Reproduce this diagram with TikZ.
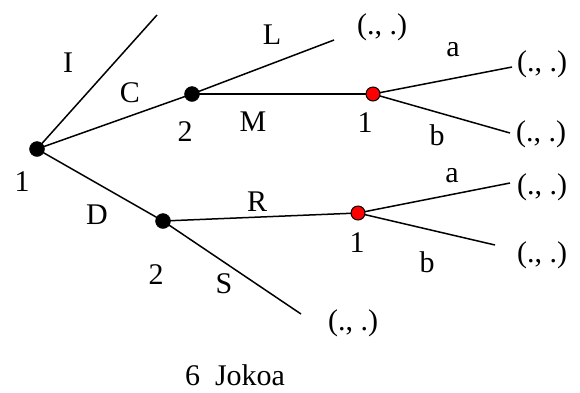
\documentclass[tikz,border=0pt]{standalone}
\usepackage{fontspec}
\setmainfont{Liberation Serif}
\begin{document}
\begin{tikzpicture}[x=1pt,y=-1pt,
  edge/.style={line width=1.5pt,black},
  bdot/.style={circle,fill=black,draw=black,inner sep=0pt,minimum size=15pt},
  rdot/.style={circle,fill=red,draw=black,line width=1pt,inner sep=0pt,minimum size=14pt},
  lbl/.style={inner sep=0pt,font=\fontsize{30}{33}\selectfont}]
\useasboundingbox (0,0) rectangle (580,392);
% points
\coordinate (Iend) at (157,15);
\coordinate (Lend) at (334,40);
\coordinate (aend1) at (512,67);
\coordinate (bend1) at (510,133);
\coordinate (Send) at (301,314);
\coordinate (aend2) at (510,183);
\coordinate (bend2) at (495,245);
\coordinate (r) at (37,149);
\coordinate (n2a) at (192,94);
\coordinate (n1a) at (373,94);
\coordinate (n2b) at (163,221);
\coordinate (n1b) at (358,213);
% edges
\draw[edge] (r) -- (Iend);
\draw[edge] (r) -- (n2a);
\draw[edge] (r) -- (n2b);
\draw[edge] (n2b) -- (Send);
\draw[edge] (n2a) -- (Lend);
\draw[edge] (n2a) -- (n1a);
\draw[edge] (n1a) -- (aend1);
\draw[edge] (n1a) -- (bend1);
\draw[edge] (n2b) -- (n1b);
\draw[edge] (n1b) -- (aend2);
\draw[edge] (n1b) -- (bend2);
% dots
\node[bdot] (rd) at (r) {};
\node[bdot] (n2ad) at (n2a) {};
\node[bdot] (n2bd) at (n2b) {};
\node[rdot] (n1ad) at (n1a) {};
\node[rdot] (n1bd) at (n1b) {};
% labels
\node[lbl] (tI) at (68,63) {I};
\node[lbl] (tC) at (130,93) {C};
\node[lbl] (t2a) at (185,132) {2};
\node[lbl] (tL) at (272,35) {L};
\node[lbl] (pL) at (382,27) {(., .)};
\node[lbl] (tM) at (253,122) {M};
\node[lbl] (t1a) at (365,123) {1};
\node[lbl] (ta1) at (453,50) {a};
\node[lbl] (pa1) at (542,64) {(., .)};
\node[lbl] (tb1) at (437,135) {b};
\node[lbl] (pb1) at (541,134) {(., .)};
\node[lbl] (t1r) at (22,182) {1};
\node[lbl] (tD) at (97,215) {D};
\node[lbl] (t2b) at (156,275) {2};
\node[lbl] (tS) at (224,284) {S};
\node[lbl] (tR) at (257,202) {R};
\node[lbl] (pS) at (353,323) {(., .)};
\node[lbl] (t1b) at (357,243) {1};
\node[lbl] (ta2) at (452,176) {a};
\node[lbl] (pa2) at (542,187) {(., .)};
\node[lbl] (tb2) at (427,262) {b};
\node[lbl] (pb2) at (542,255) {(., .)};
\node[lbl] (cap) at (235,375) {6\enspace Jokoa};
\end{tikzpicture}
\end{document}
